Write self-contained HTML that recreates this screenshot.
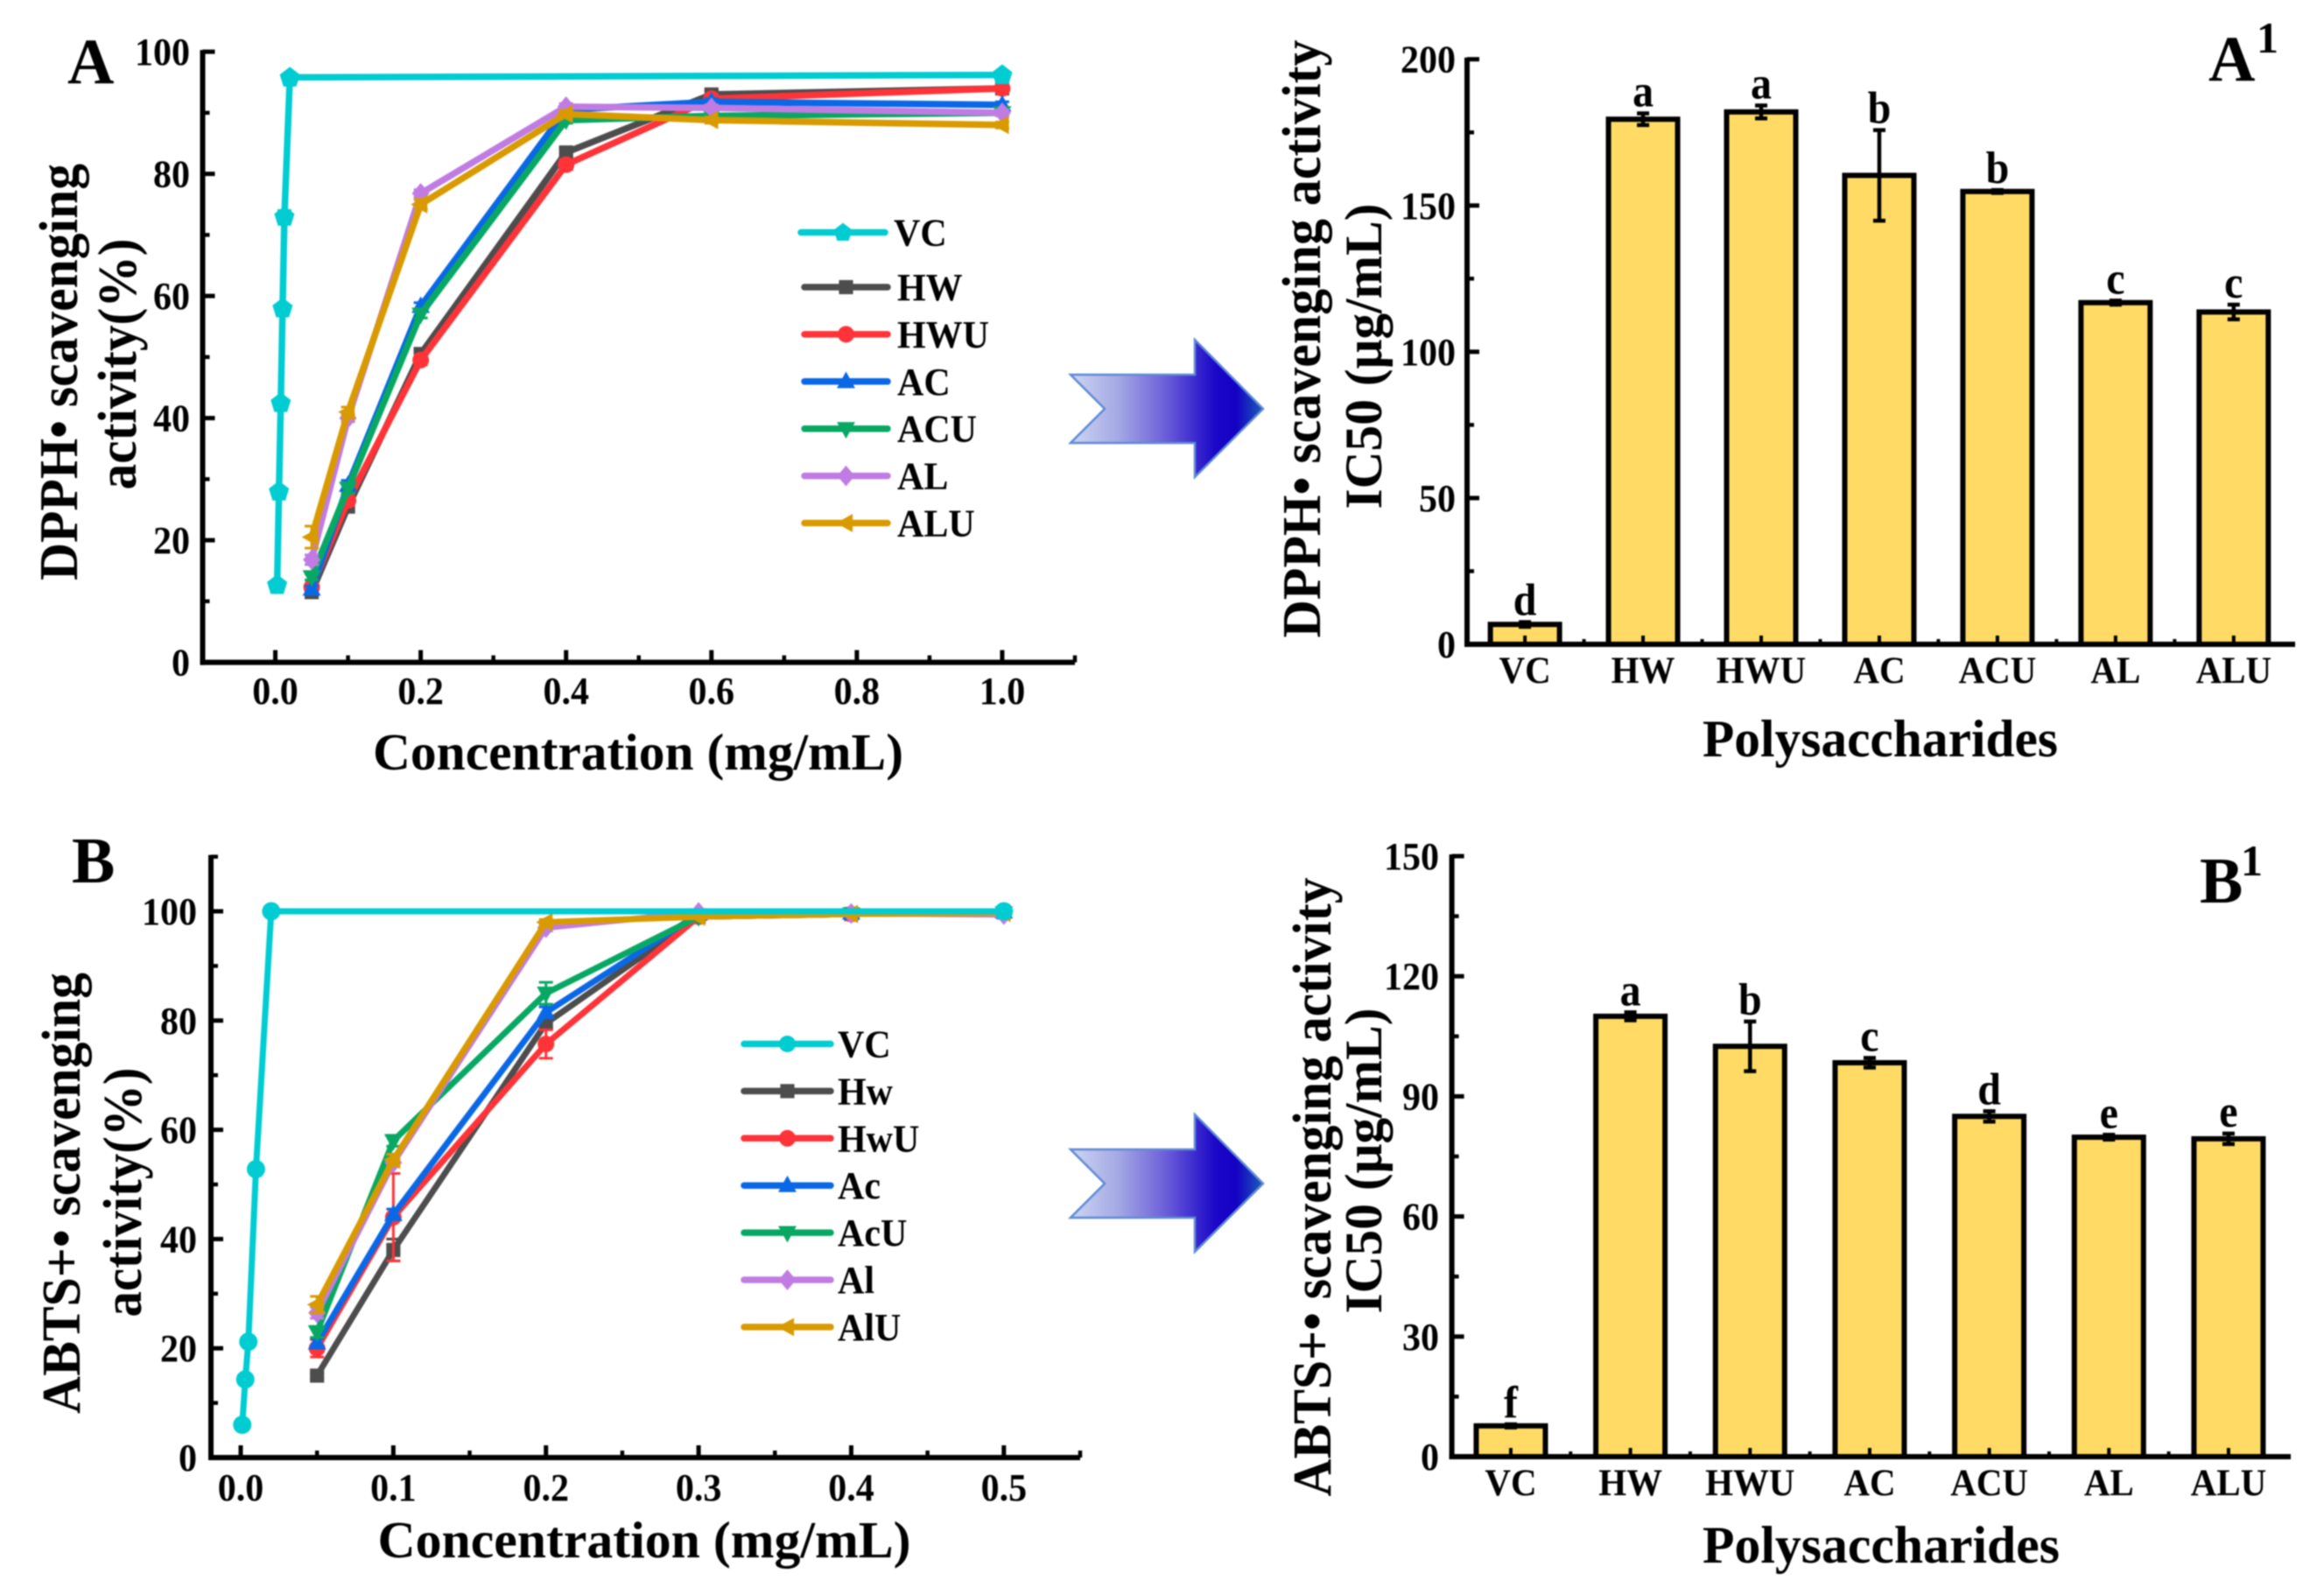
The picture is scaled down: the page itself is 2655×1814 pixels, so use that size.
<!DOCTYPE html>
<html lang="en">
<head>
<meta charset="utf-8">
<title>DPPH and ABTS scavenging activity of polysaccharides</title>
<style>
  html, body { margin: 0; padding: 0; background: #fff; }
  svg { display: block; filter: blur(0.8px); }
  text { font-family: "Liberation Serif", serif; font-weight: bold; fill: #000; }
</style>
</head>
<body>
<svg id="figure" width="2655" height="1814" viewBox="0 0 2655 1814">
  <defs>
    <linearGradient id="arrow-gradient" x1="0" y1="0" x2="1" y2="0">
      <stop offset="0" stop-color="#cdd6f3"/>
      <stop offset="0.25" stop-color="#a3a8e4"/>
      <stop offset="0.5" stop-color="#6a5cd8"/>
      <stop offset="0.75" stop-color="#1a08c8"/>
      <stop offset="0.86" stop-color="#1400c4"/>
      <stop offset="1" stop-color="#1a5fb8"/>
    </linearGradient>
  </defs>
  <rect x="0" y="0" width="2655" height="1814" fill="#fff"/>

  <g id="panel-a">
    <text x="77" y="95" font-size="74">A</text>
    <text transform="translate(88,425) rotate(-90)" text-anchor="middle" font-size="62" textLength="476" lengthAdjust="spacingAndGlyphs">DPPH• scavenging</text>
    <text transform="translate(155,416) rotate(-90)" text-anchor="middle" font-size="62" textLength="287" lengthAdjust="spacingAndGlyphs">activity(%)</text>
    <text x="729" y="879" text-anchor="middle" font-size="59" textLength="606" lengthAdjust="spacingAndGlyphs">Concentration (mg/mL)</text>
  </g>

  <g id="panel-a1">
    <text x="2523" y="92" font-size="74">A</text>
    <text x="2578" y="60" font-size="50">1</text>
    <text transform="translate(1508,387) rotate(-90)" text-anchor="middle" font-size="62" textLength="683" lengthAdjust="spacingAndGlyphs">DPPH• scavenging activity</text>
    <text transform="translate(1578,407) rotate(-90)" text-anchor="middle" font-size="60" textLength="349" lengthAdjust="spacingAndGlyphs">IC50 (μg/mL)</text>
    <text x="2148" y="864" text-anchor="middle" font-size="60" textLength="406" lengthAdjust="spacingAndGlyphs">Polysaccharides</text>
  </g>

  <g id="panel-b">
    <text x="82" y="1008" font-size="74">B</text>
    <text transform="translate(91,1363) rotate(-90)" text-anchor="middle" font-size="62" textLength="504" lengthAdjust="spacingAndGlyphs">ABTS+• scavenging</text>
    <text transform="translate(161,1362) rotate(-90)" text-anchor="middle" font-size="62" textLength="285" lengthAdjust="spacingAndGlyphs">activity(%)</text>
    <text x="736" y="1779" text-anchor="middle" font-size="59" textLength="609" lengthAdjust="spacingAndGlyphs">Concentration (mg/mL)</text>
  </g>

  <g id="panel-b1">
    <text x="2513" y="1031" font-size="74">B</text>
    <text x="2560" y="1000" font-size="50">1</text>
    <text transform="translate(1520,1356) rotate(-90)" text-anchor="middle" font-size="62" textLength="707" lengthAdjust="spacingAndGlyphs">ABTS+• scavenging activity</text>
    <text transform="translate(1578,1326) rotate(-90)" text-anchor="middle" font-size="60" textLength="349" lengthAdjust="spacingAndGlyphs">IC50 (μg/mL)</text>
    <text x="2149" y="1785" text-anchor="middle" font-size="60" textLength="408" lengthAdjust="spacingAndGlyphs">Polysaccharides</text>
  </g>

  <polygon points="1223,428 1365,428 1365,388 1443,467 1365,545 1365,506 1223,506 1262,467" fill="url(#arrow-gradient)" stroke="#5f8ad4" stroke-width="2.5" stroke-linejoin="miter"/>
  <polygon points="1223,1313 1365,1313 1365,1273 1443,1352 1365,1430 1365,1391 1223,1391 1262,1352" fill="url(#arrow-gradient)" stroke="#5f8ad4" stroke-width="2.5" stroke-linejoin="miter"/>
</svg>

<script>
// ---------- Panel A: DPPH line chart data ----------
const dpphConc = [0.05, 0.1, 0.2, 0.4, 0.6, 1.0];
const dpphVcConc = [0.0025, 0.005, 0.0075, 0.01, 0.0125, 0.02, 1.0];
const dpphVc = [12.7, 28, 42.5, 58, 73, 95.8, 96.2];
const dpphVcErr = [0.3, 0.3, 0.4, 0.4, 1, 0.2, 0.6];
const dpphHw = [11.5, 25.5, 50.5, 83.5, 93, 94];
const dpphHwErr = [0.5, 0.8, 0.8, 0.8, 0.7, 0.6];
const dpphHwu = [12.3, 26.5, 49.5, 81.5, 92.3, 94];
const dpphHwuErr = [0.5, 0.8, 0.8, 0.8, 0.7, 0.6];
const dpphAc = [12, 29, 58.3, 90.5, 91.8, 91.3];
const dpphAcErr = [0.5, 0.8, 0.6, 0.5, 0.5, 0.5];
const dpphAcu = [14, 28.5, 57, 88.8, 89.5, 90];
const dpphAcuErr = [0.5, 0.8, 0.6, 0.5, 0.4, 0.4];
const dpphAl = [16.8, 40, 76.8, 91, 90.8, 90];
const dpphAlErr = [0.8, 0.6, 0.6, 0.5, 0.5, 0.5];
const dpphAlu = [20.5, 41, 75, 89.8, 88.8, 88];
const dpphAluErr = [1.8, 0.8, 0.8, 0.6, 0.5, 0.5];
const dpphXTicks = [0, 0.2, 0.4, 0.6, 0.8, 1.0];
const dpphXMinor = [0.1, 0.3, 0.5, 0.7, 0.9, 1.1];
const dpphYTicks = [0, 20, 40, 60, 80, 100];
const dpphYMinor = [10, 30, 50, 70, 90];
const dpphLegend = ['VC', 'HW', 'HWU', 'AC', 'ACU', 'AL', 'ALU'];

// ---------- Panel A1: DPPH IC50 bar chart data ----------
const categories = ['VC', 'HW', 'HWU', 'AC', 'ACU', 'AL', 'ALU'];
const dpphIc50 = [6.8, 179.5, 182, 160.3, 154.8, 116.8, 113.6];
const dpphIc50Err = [0.8, 2, 2.2, 15.5, 0.5, 0.7, 2.5];
const dpphLetters = ['d', 'a', 'a', 'b', 'b', 'c', 'c'];
const dpphBarYTicks = [0, 50, 100, 150, 200];
const dpphBarYMinor = [25, 75, 125, 175];

// ---------- Panel B: ABTS line chart data ----------
const abtsConc = [0.05, 0.1, 0.2, 0.3, 0.4, 0.5];
const abtsVcConc = [0.001, 0.003, 0.005, 0.01, 0.02, 0.5];
const abtsVc = [6, 14.3, 21.2, 52.8, 100, 100];
const abtsVcErr = [0.3, 0.3, 0.3, 0.3, 0.1, 0.1];
const abtsHw = [15, 38, 79.5, 99, 99.5, 99.8];
const abtsHwErr = [0.5, 2, 1, 0.3, 0.3, 0.2];
const abtsHwu = [20, 44, 75.7, 99, 99.5, 99.8];
const abtsHwuErr = [1.6, 8, 2.6, 0.3, 0.3, 0.2];
const abtsAc = [21, 44.5, 81.5, 99.5, 99.7, 99.9];
const abtsAcErr = [0.8, 1, 1, 0.8, 0.8, 0.3];
const abtsAcu = [23, 58, 85, 99, 99.5, 99.7];
const abtsAcuErr = [1, 1, 2, 0.3, 0.3, 0.3];
const abtsAl = [26.5, 54, 97, 99.8, 99.6, 99.4];
const abtsAlErr = [1, 0.6, 0.6, 0.5, 0.5, 0.5];
const abtsAlu = [28, 54.5, 98, 99, 99.5, 99.7];
const abtsAluErr = [1.5, 1, 0.5, 0.3, 0.3, 0.3];
const abtsXTicks = [0, 0.1, 0.2, 0.3, 0.4, 0.5];
const abtsXMinor = [0.05, 0.15, 0.25, 0.35, 0.45, 0.55];
const abtsYTicks = [0, 20, 40, 60, 80, 100];
const abtsYMinor = [10, 30, 50, 70, 90, 110];
const abtsLegend = ['VC', 'Hw', 'HwU', 'Ac', 'AcU', 'Al', 'AlU'];

// ---------- Panel B1: ABTS IC50 bar chart data ----------
const abtsIc50 = [7.7, 110, 102.5, 98.4, 85, 79.8, 79.4];
const abtsIc50Err = [0.4, 1, 6.2, 1.2, 1.3, 0.6, 1.3];
const abtsLetters = ['f', 'a', 'b', 'c', 'd', 'e', 'e'];
const abtsBarYTicks = [0, 30, 60, 90, 120, 150];
const abtsBarYMinor = [15, 45, 75, 105, 135];

// ---------- Series styles ----------
const seriesColors = ['#00ccd2', '#4d4d4d', '#ff3338', '#0a68e6', '#08a864', '#c07ce2', '#d99a00'];
const seriesShapes = ['pentagon', 'square', 'circle', 'up', 'down', 'diamond', 'left'];

// ---------- Helpers ----------
const svgNs = document.getElementById('figure').namespaceURI;

function make(parent, tag, props) {
  const node = document.createElementNS(svgNs, tag);
  for (const key in props) node.setAttribute(key, props[key]);
  parent.appendChild(node);
  return node;
}

// Reference type is slightly stretched vertically.
function tallText(x, y) {
  return 'translate(' + x + ',' + y + ') scale(1,1.07)';
}

function scale(domain, range) {
  return function (v) {
    return range[0] + (v - domain[0]) / (domain[1] - domain[0]) * (range[1] - range[0]);
  };
}

function drawMarker(parent, shape, x, y, color, r) {
  let mark;
  if (shape === 'square') {
    mark = make(parent, 'rect', { x: x - r * 0.85, y: y - r * 0.85, width: r * 1.7, height: r * 1.7, fill: color });
  } else if (shape === 'circle') {
    mark = make(parent, 'circle', { cx: x, cy: y, r: r, fill: color });
  } else {
    let pts;
    if (shape === 'up') pts = [[0, -1.2], [1.1, 0.8], [-1.1, 0.8]];
    else if (shape === 'down') pts = [[0, 1.2], [1.1, -0.8], [-1.1, -0.8]];
    else if (shape === 'left') pts = [[-1.2, 0], [0.8, -1.1], [0.8, 1.1]];
    else if (shape === 'diamond') pts = [[0, -1.25], [1.05, 0], [0, 1.25], [-1.05, 0]];
    else pts = [[0, -1.15], [1.1, -0.3], [0.7, 1], [-0.7, 1], [-1.1, -0.3]];
    mark = make(parent, 'polygon', {
      points: pts.map(function (p) { return (x + p[0] * r) + ',' + (y + p[1] * r); }).join(' '),
      fill: color
    });
  }
  
  
  return mark;
}

function drawAxes(parent, sx, sy, cfg) {
  const x0 = sx(cfg.xDomain[0]), x1 = sx(cfg.xDomain[1]);
  const y0 = sy(cfg.yDomain[0]), y1 = sy(cfg.yDomain[1]);

  const yAxis = make(parent, 'line', { x1: x0, x2: x0, y1: y1 - 2, y2: y0 + 3, stroke: '#000', 'stroke-width': 6 });
  
  

  const xAxis = make(parent, 'line', { x1: x0 - 3, x2: x1, y1: y0, y2: y0, stroke: '#000', 'stroke-width': 6 });
  
  

  cfg.yTicks.forEach(function (v) {
    const tick = make(parent, 'line', { x1: x0, x2: x0 + 14, y1: sy(v), y2: sy(v), stroke: '#000', 'stroke-width': 5 });
    
    
    const label = make(parent, 'text', { transform: tallText(cfg.yLabelRight, sy(v) + 15), 'text-anchor': 'end', 'font-size': 42 });
    
    
    label.textContent = String(v);
  });
  cfg.yMinor.forEach(function (v) {
    const tick = make(parent, 'line', { x1: x0, x2: x0 + 8, y1: sy(v), y2: sy(v), stroke: '#000', 'stroke-width': 4.5 });
    
    
  });
}

function drawLinePanel(cfg) {
  const parent = document.getElementById(cfg.id);
  const sx = scale(cfg.xDomain, cfg.xRange);
  const sy = scale(cfg.yDomain, cfg.yRange);
  drawAxes(parent, sx, sy, cfg);
  const y0 = sy(cfg.yDomain[0]);

  cfg.xTicks.forEach(function (v) {
    const tick = make(parent, 'line', { x1: sx(v), x2: sx(v), y1: y0, y2: y0 - 14, stroke: '#000', 'stroke-width': 5 });
    
    
    const label = make(parent, 'text', { transform: tallText(sx(v), cfg.xLabelY), 'text-anchor': 'middle', 'font-size': 42 });
    
    
    label.textContent = v.toFixed(1);
  });
  cfg.xMinor.forEach(function (v) {
    const tick = make(parent, 'line', { x1: sx(v), x2: sx(v), y1: y0, y2: y0 - 8, stroke: '#000', 'stroke-width': 4.5 });
    
    
  });

  // Series 1..6 first, VC (index 0) on top, as in the figure.
  [1, 2, 3, 4, 5, 6, 0].forEach(function (s) {
    const xs = s === 0 ? cfg.vcConc : cfg.conc;
    const ys = cfg.series[s];
    const errs = cfg.errors[s];
    const color = seriesColors[s];
    const group = make(parent, 'g', {});
    
    

    ys.forEach(function (v, i) {
      const px = sx(xs[i]);
      const top = sy(v + errs[i]), bottom = sy(v - errs[i]);
      const bar = make(group, 'path', {
        d: 'M' + (px - 8) + ' ' + top + 'H' + (px + 8) + 'M' + px + ' ' + top + 'V' + bottom + 'M' + (px - 8) + ' ' + bottom + 'H' + (px + 8),
        fill: 'none', stroke: color, 'stroke-width': 3
      });
      
      
    });

    const line = make(group, 'polyline', {
      points: ys.map(function (v, i) { return sx(xs[i]) + ',' + sy(v); }).join(' '),
      fill: 'none', stroke: color, 'stroke-width': cfg.lineWidth, 'stroke-linejoin': 'round'
    });
    
    

    ys.forEach(function (v, i) {
      drawMarker(group, cfg.vcShape && s === 0 ? cfg.vcShape : seriesShapes[s], sx(xs[i]), sy(v), color, s === 0 ? 10.5 : 9.5);
    });
  });

  cfg.legend.forEach(function (name, i) {
    const y = cfg.legendY(i);
    const entry = make(parent, 'g', {});
    
    
    const lx0 = i === 0 ? cfg.legendVcX[0] : cfg.legendX[0];
    const lx1 = i === 0 ? cfg.legendVcX[1] : cfg.legendX[1];
    const swatch = make(entry, 'line', { x1: lx0, x2: lx1, y1: y, y2: y, stroke: seriesColors[i], 'stroke-width': 7.5, 'stroke-linecap': 'round' });
    
    
    drawMarker(entry, cfg.vcShape && i === 0 ? cfg.vcShape : seriesShapes[i], (lx0 + lx1) / 2, y, seriesColors[i], 9.5);
    const label = make(entry, 'text', { transform: tallText(i === 0 ? cfg.legendVcText : cfg.legendText, y + 15), 'font-size': 42 });
    
    
    label.textContent = name;
  });
}

function drawBarPanel(cfg) {
  const parent = document.getElementById(cfg.id);
  const sy = scale(cfg.yDomain, cfg.yRange);
  // Category positions: index axis spanning half a slot beyond each end.
  const sx = scale(cfg.xDomain, cfg.xRange);
  drawAxes(parent, sx, sy, cfg);
  const y0 = sy(0);

  cfg.values.forEach(function (v, i) {
    const cx = sx(i);
    const bar = make(parent, 'rect', {
      x: cx - 39.5, y: sy(v), width: 79, height: y0 - sy(v),
      fill: '#ffdb66', stroke: '#000', 'stroke-width': 6
    });
    
    

    const top = sy(v + cfg.errors[i]), bottom = sy(v - cfg.errors[i]);
    const err = make(parent, 'path', {
      d: 'M' + (cx - 7) + ' ' + top + 'H' + (cx + 7) + 'M' + cx + ' ' + top + 'V' + bottom + 'M' + (cx - 7) + ' ' + bottom + 'H' + (cx + 7),
      fill: 'none', stroke: '#000', 'stroke-width': 4.5
    });
    
    

    const letter = make(parent, 'text', { transform: tallText(cx, top - 8), 'text-anchor': 'middle', 'font-size': 48 });
    
    
    letter.textContent = cfg.letters[i];

    const tick = make(parent, 'line', { x1: cx, x2: cx, y1: y0, y2: y0 - 10, stroke: '#000', 'stroke-width': 4 });
    
    

    const label = make(parent, 'text', { transform: tallText(cx, cfg.xLabelY), 'text-anchor': 'middle', 'font-size': 41 });
    
    
    label.textContent = categories[i];

    if (i < cfg.values.length - 1) {
      const minor = make(parent, 'line', { x1: sx(i + 0.5), x2: sx(i + 0.5), y1: y0, y2: y0 - 6, stroke: '#000', 'stroke-width': 4 });
      
      
    }
  });
}

// ---------- Draw ----------
drawLinePanel({
  id: 'panel-a',
  xDomain: [-0.1, 1.1], xRange: [231.5, 1228],
  yDomain: [0, 100], yRange: [756.6, 59.1],
  xTicks: dpphXTicks, xMinor: dpphXMinor, yTicks: dpphYTicks, yMinor: dpphYMinor,
  yLabelRight: 217, xLabelY: 804,
  conc: dpphConc, vcConc: dpphVcConc,
  series: [dpphVc, dpphHw, dpphHwu, dpphAc, dpphAcu, dpphAl, dpphAlu],
  errors: [dpphVcErr, dpphHwErr, dpphHwuErr, dpphAcErr, dpphAcuErr, dpphAlErr, dpphAluErr],
  legend: dpphLegend,
  legendY: function (i) { return i === 0 ? 265.5 : 328 + (i - 1) * 53.9; },
  legendVcX: [915, 1011], legendX: [919, 1014],
  legendVcText: 1021, legendText: 1025,
  lineWidth: 7.5, vcShape: 'pentagon'
});

drawBarPanel({
  id: 'panel-a1',
  xDomain: [-0.49, 6.52], xRange: [1676, 2622],
  yDomain: [0, 200], yRange: [736, 67.7],
  yTicks: dpphBarYTicks, yMinor: dpphBarYMinor,
  yLabelRight: 1663, xLabelY: 780,
  values: dpphIc50, errors: dpphIc50Err, letters: dpphLetters
});

drawLinePanel({
  id: 'panel-b',
  xDomain: [-0.0195, 0.55], xRange: [241, 1234],
  yDomain: [0, 110], yRange: [1665, 978.6],
  xTicks: abtsXTicks, xMinor: abtsXMinor, yTicks: abtsYTicks, yMinor: abtsYMinor,
  yLabelRight: 225, xLabelY: 1714,
  conc: abtsConc, vcConc: abtsVcConc,
  series: [abtsVc, abtsHw, abtsHwu, abtsAc, abtsAcu, abtsAl, abtsAlu],
  errors: [abtsVcErr, abtsHwErr, abtsHwuErr, abtsAcErr, abtsAcuErr, abtsAlErr, abtsAluErr],
  legend: abtsLegend,
  legendY: function (i) { return 1192.5 + i * 53.9; },
  legendVcX: [850, 949], legendX: [850, 949],
  legendVcText: 957, legendText: 957,
  lineWidth: 7, vcShape: 'circle'
});

drawBarPanel({
  id: 'panel-b1',
  xDomain: [-0.493, 6.52], xRange: [1658.6, 2617],
  yDomain: [0, 150], yRange: [1664, 978],
  yTicks: abtsBarYTicks, yMinor: abtsBarYMinor,
  yLabelRight: 1644, xLabelY: 1708,
  values: abtsIc50, errors: abtsIc50Err, letters: abtsLetters
});
</script>
</body>
</html>
